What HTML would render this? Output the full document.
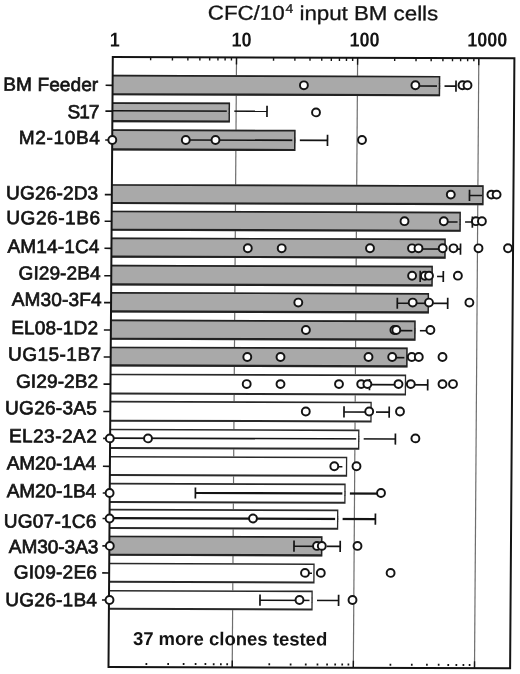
<!DOCTYPE html><html><head><meta charset="utf-8"><style>html,body{margin:0;padding:0;background:#fff;overflow:hidden;}svg{display:block;will-change:transform;}text{font-family:"Liberation Sans",sans-serif;}</style></head><body>
<svg width="520" height="674" viewBox="0 0 520 674">
<rect x="0" y="0" width="520" height="674" fill="#fff"/>
<g transform="matrix(1 0.0032 -0.00705 1 0.4018 -0.3610)">
<line x1="236.52" y1="57.00" x2="236.52" y2="667.00" stroke="#6e6e6e" stroke-width="1.2"/>
<line x1="357.62" y1="57.00" x2="357.62" y2="667.00" stroke="#6e6e6e" stroke-width="1.2"/>
<line x1="478.81" y1="57.00" x2="478.81" y2="667.00" stroke="#6e6e6e" stroke-width="1.2"/>
<rect x="112.80" y="74.84" width="327.59" height="20.40" fill="#a9a9a9"/>
<path d="M112.80 74.84H440.39V95.24H112.80V93.14H438.94V76.54H112.80Z" fill="#222"/>
<rect x="112.80" y="102.24" width="117.58" height="19.90" fill="#a9a9a9"/>
<path d="M112.80 102.24H230.38V122.14H112.80V120.04H228.93V103.94H112.80Z" fill="#222"/>
<rect x="112.80" y="129.24" width="183.28" height="21.20" fill="#a9a9a9"/>
<path d="M112.80 129.24H296.08V150.44H112.80V148.34H294.63V130.94H112.80Z" fill="#222"/>
<rect x="112.80" y="184.14" width="371.76" height="19.90" fill="#a9a9a9"/>
<path d="M112.80 184.14H484.56V204.04H112.80V201.94H483.11V185.84H112.80Z" fill="#222"/>
<rect x="112.80" y="210.64" width="349.15" height="20.10" fill="#a9a9a9"/>
<path d="M112.80 210.64H461.95V230.74H112.80V228.64H460.50V212.34H112.80Z" fill="#222"/>
<rect x="112.80" y="237.44" width="334.24" height="20.20" fill="#a9a9a9"/>
<path d="M112.80 237.44H447.04V257.64H112.80V255.54H445.59V239.14H112.80Z" fill="#222"/>
<rect x="112.80" y="264.84" width="321.53" height="20.60" fill="#a9a9a9"/>
<path d="M112.80 264.84H434.33V285.44H112.80V283.34H432.88V266.54H112.80Z" fill="#222"/>
<rect x="112.80" y="291.94" width="317.92" height="20.50" fill="#a9a9a9"/>
<path d="M112.80 291.94H430.72V312.44H112.80V310.34H429.27V293.64H112.80Z" fill="#222"/>
<rect x="112.80" y="319.54" width="304.72" height="20.20" fill="#a9a9a9"/>
<path d="M112.80 319.54H417.52V339.74H112.80V337.64H416.07V321.24H112.80Z" fill="#222"/>
<rect x="112.80" y="346.64" width="296.91" height="19.80" fill="#a9a9a9"/>
<path d="M112.80 346.64H409.71V366.44H112.80V364.34H408.26V348.34H112.80Z" fill="#222"/>
<rect x="112.80" y="373.64" width="295.60" height="20.80" fill="#fff"/>
<path d="M112.80 373.64H408.40V394.44H112.80V392.44H407.10V375.24H112.80Z" fill="#2a2a2a"/>
<rect x="112.80" y="400.84" width="261.39" height="20.80" fill="#fff"/>
<path d="M112.80 400.84H374.19V421.64H112.80V419.64H372.89V402.44H112.80Z" fill="#2a2a2a"/>
<rect x="112.80" y="428.74" width="249.28" height="20.20" fill="#fff"/>
<path d="M112.80 428.74H362.08V448.94H112.80V446.94H360.78V430.34H112.80Z" fill="#2a2a2a"/>
<rect x="112.80" y="455.94" width="237.28" height="20.10" fill="#fff"/>
<path d="M112.80 455.94H350.08V476.04H112.80V474.04H348.78V457.54H112.80Z" fill="#2a2a2a"/>
<rect x="112.80" y="482.84" width="235.87" height="20.20" fill="#fff"/>
<path d="M112.80 482.84H348.67V503.03H112.80V501.03H347.37V484.44H112.80Z" fill="#2a2a2a"/>
<rect x="112.80" y="508.83" width="228.75" height="20.20" fill="#fff"/>
<path d="M112.80 508.83H341.55V529.03H112.80V527.03H340.25V510.43H112.80Z" fill="#2a2a2a"/>
<rect x="112.80" y="535.63" width="213.04" height="20.10" fill="#a9a9a9"/>
<path d="M112.80 535.63H325.84V555.73H112.80V553.63H324.39V537.33H112.80Z" fill="#222"/>
<rect x="112.80" y="562.73" width="205.43" height="20.00" fill="#fff"/>
<path d="M112.80 562.73H318.23V582.73H112.80V580.73H316.93V564.33H112.80Z" fill="#2a2a2a"/>
<rect x="112.80" y="589.93" width="203.72" height="19.90" fill="#fff"/>
<path d="M112.80 589.93H316.52V609.83H112.80V607.83H315.22V591.53H112.80Z" fill="#2a2a2a"/>
<line x1="416.19" y1="85.02" x2="456.19" y2="85.02" stroke="#141414" stroke-width="1.6"/>
<rect x="440.39" y="83.02" width="4.3" height="4" fill="#fff"/>
<rect x="437.19" y="83.02" width="3.2" height="4" fill="#a9a9a9"/>
<line x1="439.67" y1="82.52" x2="439.67" y2="87.52" stroke="#222" stroke-width="1.45"/>
<line x1="456.19" y1="79.42" x2="456.19" y2="90.62" stroke="#141414" stroke-width="1.7"/>
<line x1="113.38" y1="110.82" x2="267.38" y2="110.82" stroke="#141414" stroke-width="1.6"/>
<rect x="230.38" y="108.82" width="4.3" height="4" fill="#fff"/>
<rect x="227.18" y="108.82" width="3.2" height="4" fill="#a9a9a9"/>
<line x1="229.65" y1="108.32" x2="229.65" y2="113.32" stroke="#222" stroke-width="1.45"/>
<line x1="267.38" y1="105.22" x2="267.38" y2="116.42" stroke="#141414" stroke-width="1.7"/>
<line x1="186.38" y1="139.72" x2="328.08" y2="139.72" stroke="#141414" stroke-width="1.6"/>
<rect x="296.08" y="137.72" width="4.3" height="4" fill="#fff"/>
<rect x="292.88" y="137.72" width="3.2" height="4" fill="#a9a9a9"/>
<line x1="295.36" y1="137.22" x2="295.36" y2="142.22" stroke="#222" stroke-width="1.45"/>
<line x1="328.08" y1="134.12" x2="328.08" y2="145.32" stroke="#141414" stroke-width="1.7"/>
<line x1="470.46" y1="194.32" x2="482.96" y2="194.32" stroke="#141414" stroke-width="1.6"/>
<line x1="470.46" y1="188.72" x2="470.46" y2="199.92" stroke="#141414" stroke-width="1.7"/>
<line x1="444.95" y1="220.92" x2="473.55" y2="220.92" stroke="#141414" stroke-width="1.6"/>
<rect x="461.95" y="218.92" width="4.3" height="4" fill="#fff"/>
<rect x="458.75" y="218.92" width="3.2" height="4" fill="#a9a9a9"/>
<line x1="461.22" y1="218.42" x2="461.22" y2="223.42" stroke="#222" stroke-width="1.45"/>
<line x1="473.55" y1="215.32" x2="473.55" y2="226.52" stroke="#141414" stroke-width="1.7"/>
<line x1="419.84" y1="248.02" x2="461.84" y2="248.02" stroke="#141414" stroke-width="1.6"/>
<rect x="447.04" y="246.02" width="4.3" height="4" fill="#fff"/>
<rect x="443.84" y="246.02" width="3.2" height="4" fill="#a9a9a9"/>
<line x1="446.32" y1="245.52" x2="446.32" y2="250.52" stroke="#222" stroke-width="1.45"/>
<line x1="461.84" y1="242.42" x2="461.84" y2="253.62" stroke="#141414" stroke-width="1.7"/>
<line x1="421.73" y1="275.42" x2="444.83" y2="275.42" stroke="#141414" stroke-width="1.6"/>
<rect x="434.33" y="273.42" width="4.3" height="4" fill="#fff"/>
<rect x="431.13" y="273.42" width="3.2" height="4" fill="#a9a9a9"/>
<line x1="433.61" y1="272.92" x2="433.61" y2="277.92" stroke="#222" stroke-width="1.45"/>
<line x1="421.73" y1="269.82" x2="421.73" y2="281.02" stroke="#141414" stroke-width="1.7"/>
<line x1="444.83" y1="269.82" x2="444.83" y2="281.02" stroke="#141414" stroke-width="1.7"/>
<line x1="399.03" y1="302.32" x2="449.42" y2="302.32" stroke="#141414" stroke-width="1.6"/>
<rect x="430.72" y="300.32" width="4.3" height="4" fill="#fff"/>
<rect x="427.52" y="300.32" width="3.2" height="4" fill="#a9a9a9"/>
<line x1="430.00" y1="299.82" x2="430.00" y2="304.82" stroke="#222" stroke-width="1.45"/>
<line x1="399.03" y1="296.72" x2="399.03" y2="307.92" stroke="#141414" stroke-width="1.7"/>
<line x1="449.42" y1="296.72" x2="449.42" y2="307.92" stroke="#141414" stroke-width="1.7"/>
<line x1="397.92" y1="329.71" x2="431.92" y2="329.71" stroke="#141414" stroke-width="1.6"/>
<rect x="417.52" y="327.71" width="4.3" height="4" fill="#fff"/>
<rect x="414.32" y="327.71" width="3.2" height="4" fill="#a9a9a9"/>
<line x1="416.79" y1="327.21" x2="416.79" y2="332.21" stroke="#222" stroke-width="1.45"/>
<line x1="394.31" y1="356.71" x2="417.11" y2="356.71" stroke="#141414" stroke-width="1.6"/>
<rect x="409.71" y="354.71" width="4.3" height="4" fill="#fff"/>
<rect x="406.51" y="354.71" width="3.2" height="4" fill="#a9a9a9"/>
<line x1="408.98" y1="354.21" x2="408.98" y2="359.21" stroke="#222" stroke-width="1.45"/>
<line x1="371.80" y1="383.81" x2="430.00" y2="383.81" stroke="#141414" stroke-width="1.6"/>
<rect x="408.40" y="381.81" width="4.3" height="4" fill="#fff"/>
<rect x="405.20" y="381.81" width="3.2" height="4" fill="#fff"/>
<line x1="407.75" y1="381.31" x2="407.75" y2="386.31" stroke="#2a2a2a" stroke-width="1.3"/>
<line x1="371.80" y1="378.21" x2="371.80" y2="389.41" stroke="#141414" stroke-width="1.7"/>
<line x1="430.00" y1="378.21" x2="430.00" y2="389.41" stroke="#141414" stroke-width="1.7"/>
<line x1="346.49" y1="411.21" x2="391.69" y2="411.21" stroke="#141414" stroke-width="1.6"/>
<rect x="374.19" y="409.21" width="4.3" height="4" fill="#fff"/>
<rect x="370.99" y="409.21" width="3.2" height="4" fill="#fff"/>
<line x1="373.54" y1="408.71" x2="373.54" y2="413.71" stroke="#2a2a2a" stroke-width="1.3"/>
<line x1="346.49" y1="405.61" x2="346.49" y2="416.81" stroke="#141414" stroke-width="1.7"/>
<line x1="391.69" y1="405.61" x2="391.69" y2="416.81" stroke="#141414" stroke-width="1.7"/>
<line x1="112.69" y1="438.11" x2="398.08" y2="438.11" stroke="#141414" stroke-width="1.6"/>
<rect x="362.08" y="436.11" width="4.3" height="4" fill="#fff"/>
<rect x="358.88" y="436.11" width="3.2" height="4" fill="#fff"/>
<line x1="361.43" y1="435.61" x2="361.43" y2="440.61" stroke="#2a2a2a" stroke-width="1.3"/>
<line x1="398.08" y1="432.51" x2="398.08" y2="443.71" stroke="#141414" stroke-width="1.7"/>
<line x1="337.18" y1="466.01" x2="345.28" y2="466.01" stroke="#141414" stroke-width="1.6"/>
<line x1="198.47" y1="492.71" x2="384.07" y2="492.71" stroke="#141414" stroke-width="2.2"/>
<rect x="348.67" y="490.71" width="4.3" height="4" fill="#fff"/>
<rect x="345.47" y="490.71" width="3.2" height="4" fill="#fff"/>
<line x1="348.02" y1="490.21" x2="348.02" y2="495.21" stroke="#2a2a2a" stroke-width="1.3"/>
<line x1="198.47" y1="487.11" x2="198.47" y2="498.31" stroke="#141414" stroke-width="1.7"/>
<line x1="112.85" y1="518.21" x2="378.65" y2="518.21" stroke="#141414" stroke-width="2.2"/>
<rect x="341.55" y="516.21" width="4.3" height="4" fill="#fff"/>
<rect x="338.35" y="516.21" width="3.2" height="4" fill="#fff"/>
<line x1="340.90" y1="515.71" x2="340.90" y2="520.71" stroke="#2a2a2a" stroke-width="1.3"/>
<line x1="378.65" y1="512.61" x2="378.65" y2="523.81" stroke="#141414" stroke-width="1.7"/>
<line x1="297.44" y1="545.61" x2="343.64" y2="545.61" stroke="#141414" stroke-width="1.6"/>
<rect x="325.84" y="543.61" width="4.3" height="4" fill="#fff"/>
<rect x="322.64" y="543.61" width="3.2" height="4" fill="#a9a9a9"/>
<line x1="325.12" y1="543.11" x2="325.12" y2="548.11" stroke="#222" stroke-width="1.45"/>
<line x1="297.44" y1="540.01" x2="297.44" y2="551.21" stroke="#141414" stroke-width="1.7"/>
<line x1="343.64" y1="540.01" x2="343.64" y2="551.21" stroke="#141414" stroke-width="1.7"/>
<line x1="308.63" y1="572.61" x2="315.63" y2="572.61" stroke="#141414" stroke-width="1.6"/>
<line x1="263.82" y1="599.71" x2="342.42" y2="599.71" stroke="#141414" stroke-width="1.6"/>
<rect x="316.52" y="597.71" width="4.3" height="4" fill="#fff"/>
<rect x="313.32" y="597.71" width="3.2" height="4" fill="#fff"/>
<line x1="315.87" y1="597.21" x2="315.87" y2="602.21" stroke="#2a2a2a" stroke-width="1.3"/>
<line x1="263.82" y1="594.11" x2="263.82" y2="605.31" stroke="#141414" stroke-width="1.7"/>
<line x1="342.42" y1="594.11" x2="342.42" y2="605.31" stroke="#141414" stroke-width="1.7"/>
<rect x="112.80" y="57.00" width="401.60" height="610.00" fill="none" stroke="#141414" stroke-width="2"/>
<line x1="150.66" y1="57.00" x2="150.66" y2="60.20" stroke="#141414" stroke-width="1.4"/>
<line x1="150.66" y1="664.80" x2="150.66" y2="662.80" stroke="#141414" stroke-width="1.7"/>
<line x1="172.44" y1="57.00" x2="172.44" y2="60.20" stroke="#141414" stroke-width="1.4"/>
<line x1="172.44" y1="664.80" x2="172.44" y2="662.80" stroke="#141414" stroke-width="1.7"/>
<line x1="187.89" y1="57.00" x2="187.89" y2="60.20" stroke="#141414" stroke-width="1.4"/>
<line x1="187.89" y1="664.80" x2="187.89" y2="662.80" stroke="#141414" stroke-width="1.7"/>
<line x1="199.88" y1="57.00" x2="199.88" y2="60.20" stroke="#141414" stroke-width="1.4"/>
<line x1="199.88" y1="664.80" x2="199.88" y2="662.80" stroke="#141414" stroke-width="1.7"/>
<line x1="209.68" y1="57.00" x2="209.68" y2="60.20" stroke="#141414" stroke-width="1.4"/>
<line x1="209.68" y1="664.80" x2="209.68" y2="662.80" stroke="#141414" stroke-width="1.7"/>
<line x1="217.96" y1="57.00" x2="217.96" y2="60.20" stroke="#141414" stroke-width="1.4"/>
<line x1="217.96" y1="664.80" x2="217.96" y2="662.80" stroke="#141414" stroke-width="1.7"/>
<line x1="225.13" y1="57.00" x2="225.13" y2="60.20" stroke="#141414" stroke-width="1.4"/>
<line x1="225.13" y1="664.80" x2="225.13" y2="662.80" stroke="#141414" stroke-width="1.7"/>
<line x1="231.46" y1="57.00" x2="231.46" y2="60.20" stroke="#141414" stroke-width="1.4"/>
<line x1="231.46" y1="664.80" x2="231.46" y2="662.80" stroke="#141414" stroke-width="1.7"/>
<line x1="273.57" y1="57.00" x2="273.57" y2="60.20" stroke="#141414" stroke-width="1.4"/>
<line x1="273.57" y1="664.80" x2="273.57" y2="662.80" stroke="#141414" stroke-width="1.7"/>
<line x1="294.90" y1="57.00" x2="294.90" y2="60.20" stroke="#141414" stroke-width="1.4"/>
<line x1="294.90" y1="664.80" x2="294.90" y2="662.80" stroke="#141414" stroke-width="1.7"/>
<line x1="310.03" y1="57.00" x2="310.03" y2="60.20" stroke="#141414" stroke-width="1.4"/>
<line x1="310.03" y1="664.80" x2="310.03" y2="662.80" stroke="#141414" stroke-width="1.7"/>
<line x1="321.76" y1="57.00" x2="321.76" y2="60.20" stroke="#141414" stroke-width="1.4"/>
<line x1="321.76" y1="664.80" x2="321.76" y2="662.80" stroke="#141414" stroke-width="1.7"/>
<line x1="331.35" y1="57.00" x2="331.35" y2="60.20" stroke="#141414" stroke-width="1.4"/>
<line x1="331.35" y1="664.80" x2="331.35" y2="662.80" stroke="#141414" stroke-width="1.7"/>
<line x1="339.46" y1="57.00" x2="339.46" y2="60.20" stroke="#141414" stroke-width="1.4"/>
<line x1="339.46" y1="664.80" x2="339.46" y2="662.80" stroke="#141414" stroke-width="1.7"/>
<line x1="346.48" y1="57.00" x2="346.48" y2="60.20" stroke="#141414" stroke-width="1.4"/>
<line x1="346.48" y1="664.80" x2="346.48" y2="662.80" stroke="#141414" stroke-width="1.7"/>
<line x1="352.67" y1="57.00" x2="352.67" y2="60.20" stroke="#141414" stroke-width="1.4"/>
<line x1="352.67" y1="664.80" x2="352.67" y2="662.80" stroke="#141414" stroke-width="1.7"/>
<line x1="394.70" y1="57.00" x2="394.70" y2="60.20" stroke="#141414" stroke-width="1.4"/>
<line x1="394.70" y1="664.80" x2="394.70" y2="662.80" stroke="#141414" stroke-width="1.7"/>
<line x1="416.04" y1="57.00" x2="416.04" y2="60.20" stroke="#141414" stroke-width="1.4"/>
<line x1="416.04" y1="664.80" x2="416.04" y2="662.80" stroke="#141414" stroke-width="1.7"/>
<line x1="431.18" y1="57.00" x2="431.18" y2="60.20" stroke="#141414" stroke-width="1.4"/>
<line x1="431.18" y1="664.80" x2="431.18" y2="662.80" stroke="#141414" stroke-width="1.7"/>
<line x1="442.93" y1="57.00" x2="442.93" y2="60.20" stroke="#141414" stroke-width="1.4"/>
<line x1="442.93" y1="664.80" x2="442.93" y2="662.80" stroke="#141414" stroke-width="1.7"/>
<line x1="452.53" y1="57.00" x2="452.53" y2="60.20" stroke="#141414" stroke-width="1.4"/>
<line x1="452.53" y1="664.80" x2="452.53" y2="662.80" stroke="#141414" stroke-width="1.7"/>
<line x1="460.64" y1="57.00" x2="460.64" y2="60.20" stroke="#141414" stroke-width="1.4"/>
<line x1="460.64" y1="664.80" x2="460.64" y2="662.80" stroke="#141414" stroke-width="1.7"/>
<line x1="467.67" y1="57.00" x2="467.67" y2="60.20" stroke="#141414" stroke-width="1.4"/>
<line x1="467.67" y1="664.80" x2="467.67" y2="662.80" stroke="#141414" stroke-width="1.7"/>
<line x1="473.87" y1="57.00" x2="473.87" y2="60.20" stroke="#141414" stroke-width="1.4"/>
<line x1="473.87" y1="664.80" x2="473.87" y2="662.80" stroke="#141414" stroke-width="1.7"/>
<line x1="236.52" y1="57.00" x2="236.52" y2="64.00" stroke="#141414" stroke-width="1.4"/>
<line x1="236.52" y1="667.00" x2="236.52" y2="660.00" stroke="#141414" stroke-width="1.4"/>
<line x1="357.62" y1="57.00" x2="357.62" y2="64.00" stroke="#141414" stroke-width="1.4"/>
<line x1="357.62" y1="667.00" x2="357.62" y2="660.00" stroke="#141414" stroke-width="1.4"/>
<line x1="478.81" y1="57.00" x2="478.81" y2="64.00" stroke="#141414" stroke-width="1.4"/>
<line x1="478.81" y1="667.00" x2="478.81" y2="660.00" stroke="#141414" stroke-width="1.4"/>
<line x1="105.80" y1="85.34" x2="112.80" y2="85.34" stroke="#141414" stroke-width="1.6"/>
<line x1="105.80" y1="111.14" x2="112.80" y2="111.14" stroke="#141414" stroke-width="1.6"/>
<line x1="105.80" y1="140.04" x2="112.80" y2="140.04" stroke="#141414" stroke-width="1.6"/>
<line x1="105.80" y1="194.64" x2="112.80" y2="194.64" stroke="#141414" stroke-width="1.6"/>
<line x1="105.80" y1="221.24" x2="112.80" y2="221.24" stroke="#141414" stroke-width="1.6"/>
<line x1="105.80" y1="248.34" x2="112.80" y2="248.34" stroke="#141414" stroke-width="1.6"/>
<line x1="105.80" y1="275.74" x2="112.80" y2="275.74" stroke="#141414" stroke-width="1.6"/>
<line x1="105.80" y1="302.64" x2="112.80" y2="302.64" stroke="#141414" stroke-width="1.6"/>
<line x1="105.80" y1="330.03" x2="112.80" y2="330.03" stroke="#141414" stroke-width="1.6"/>
<line x1="105.80" y1="357.03" x2="112.80" y2="357.03" stroke="#141414" stroke-width="1.6"/>
<line x1="105.80" y1="384.13" x2="112.80" y2="384.13" stroke="#141414" stroke-width="1.6"/>
<line x1="105.80" y1="411.53" x2="112.80" y2="411.53" stroke="#141414" stroke-width="1.6"/>
<line x1="105.80" y1="438.43" x2="112.80" y2="438.43" stroke="#141414" stroke-width="1.6"/>
<line x1="105.80" y1="466.33" x2="112.80" y2="466.33" stroke="#141414" stroke-width="1.6"/>
<line x1="105.80" y1="493.03" x2="112.80" y2="493.03" stroke="#141414" stroke-width="1.6"/>
<line x1="105.80" y1="518.53" x2="112.80" y2="518.53" stroke="#141414" stroke-width="1.6"/>
<line x1="105.80" y1="545.93" x2="112.80" y2="545.93" stroke="#141414" stroke-width="1.6"/>
<line x1="105.80" y1="572.93" x2="112.80" y2="572.93" stroke="#141414" stroke-width="1.6"/>
<line x1="105.80" y1="600.03" x2="112.80" y2="600.03" stroke="#141414" stroke-width="1.6"/>
<circle cx="304.10" cy="84.69" r="3.95" fill="#fff" stroke="#141414" stroke-width="1.95"/>
<circle cx="415.59" cy="84.33" r="3.95" fill="#fff" stroke="#141414" stroke-width="1.95"/>
<circle cx="462.69" cy="84.18" r="3.95" fill="#fff" stroke="#141414" stroke-width="1.95"/>
<circle cx="467.69" cy="84.16" r="3.95" fill="#fff" stroke="#141414" stroke-width="1.95"/>
<circle cx="316.39" cy="111.75" r="3.95" fill="#fff" stroke="#141414" stroke-width="1.95"/>
<circle cx="112.89" cy="140.00" r="3.95" fill="#fff" stroke="#141414" stroke-width="1.95"/>
<circle cx="186.38" cy="139.76" r="3.95" fill="#fff" stroke="#141414" stroke-width="1.95"/>
<circle cx="216.08" cy="139.67" r="3.95" fill="#fff" stroke="#141414" stroke-width="1.95"/>
<circle cx="362.58" cy="139.20" r="3.95" fill="#fff" stroke="#141414" stroke-width="1.95"/>
<circle cx="451.76" cy="193.52" r="3.95" fill="#fff" stroke="#141414" stroke-width="1.95"/>
<circle cx="492.36" cy="193.39" r="3.95" fill="#fff" stroke="#141414" stroke-width="1.95"/>
<circle cx="497.56" cy="193.37" r="3.95" fill="#fff" stroke="#141414" stroke-width="1.95"/>
<circle cx="405.65" cy="220.26" r="3.95" fill="#fff" stroke="#141414" stroke-width="1.95"/>
<circle cx="444.95" cy="220.14" r="3.95" fill="#fff" stroke="#141414" stroke-width="1.95"/>
<circle cx="477.05" cy="220.03" r="3.95" fill="#fff" stroke="#141414" stroke-width="1.95"/>
<circle cx="483.05" cy="220.02" r="3.95" fill="#fff" stroke="#141414" stroke-width="1.95"/>
<circle cx="249.15" cy="247.86" r="3.95" fill="#fff" stroke="#141414" stroke-width="1.95"/>
<circle cx="283.04" cy="247.76" r="3.95" fill="#fff" stroke="#141414" stroke-width="1.95"/>
<circle cx="371.34" cy="247.47" r="3.95" fill="#fff" stroke="#141414" stroke-width="1.95"/>
<circle cx="413.34" cy="247.34" r="3.95" fill="#fff" stroke="#141414" stroke-width="1.95"/>
<circle cx="419.84" cy="247.32" r="3.95" fill="#fff" stroke="#141414" stroke-width="1.95"/>
<circle cx="444.04" cy="247.24" r="3.95" fill="#fff" stroke="#141414" stroke-width="1.95"/>
<circle cx="454.84" cy="247.21" r="3.95" fill="#fff" stroke="#141414" stroke-width="1.95"/>
<circle cx="479.84" cy="247.13" r="3.95" fill="#fff" stroke="#141414" stroke-width="1.95"/>
<circle cx="509.34" cy="247.03" r="3.95" fill="#fff" stroke="#141414" stroke-width="1.95"/>
<circle cx="413.64" cy="274.74" r="3.95" fill="#fff" stroke="#141414" stroke-width="1.95"/>
<circle cx="426.43" cy="274.70" r="3.95" fill="#fff" stroke="#141414" stroke-width="1.95"/>
<circle cx="430.53" cy="274.68" r="3.95" fill="#fff" stroke="#141414" stroke-width="1.95"/>
<circle cx="459.43" cy="274.59" r="3.95" fill="#fff" stroke="#141414" stroke-width="1.95"/>
<circle cx="300.03" cy="302.00" r="3.95" fill="#fff" stroke="#141414" stroke-width="1.95"/>
<circle cx="414.42" cy="301.63" r="3.95" fill="#fff" stroke="#141414" stroke-width="1.95"/>
<circle cx="430.72" cy="301.58" r="3.95" fill="#fff" stroke="#141414" stroke-width="1.95"/>
<circle cx="471.12" cy="301.45" r="3.95" fill="#fff" stroke="#141414" stroke-width="1.95"/>
<circle cx="307.82" cy="329.38" r="3.95" fill="#fff" stroke="#141414" stroke-width="1.95"/>
<circle cx="396.32" cy="329.09" r="3.95" fill="#fff" stroke="#141414" stroke-width="1.95"/>
<circle cx="398.22" cy="329.09" r="3.95" fill="#fff" stroke="#141414" stroke-width="1.95"/>
<circle cx="432.32" cy="328.98" r="3.95" fill="#fff" stroke="#141414" stroke-width="1.95"/>
<circle cx="249.41" cy="356.56" r="3.95" fill="#fff" stroke="#141414" stroke-width="1.95"/>
<circle cx="282.61" cy="356.46" r="3.95" fill="#fff" stroke="#141414" stroke-width="1.95"/>
<circle cx="370.61" cy="356.18" r="3.95" fill="#fff" stroke="#141414" stroke-width="1.95"/>
<circle cx="394.31" cy="356.10" r="3.95" fill="#fff" stroke="#141414" stroke-width="1.95"/>
<circle cx="413.91" cy="356.04" r="3.95" fill="#fff" stroke="#141414" stroke-width="1.95"/>
<circle cx="420.91" cy="356.01" r="3.95" fill="#fff" stroke="#141414" stroke-width="1.95"/>
<circle cx="444.61" cy="355.94" r="3.95" fill="#fff" stroke="#141414" stroke-width="1.95"/>
<circle cx="249.00" cy="383.66" r="3.95" fill="#fff" stroke="#141414" stroke-width="1.95"/>
<circle cx="282.80" cy="383.56" r="3.95" fill="#fff" stroke="#141414" stroke-width="1.95"/>
<circle cx="341.30" cy="383.37" r="3.95" fill="#fff" stroke="#141414" stroke-width="1.95"/>
<circle cx="363.50" cy="383.30" r="3.95" fill="#fff" stroke="#141414" stroke-width="1.95"/>
<circle cx="369.70" cy="383.28" r="3.95" fill="#fff" stroke="#141414" stroke-width="1.95"/>
<circle cx="400.80" cy="383.18" r="3.95" fill="#fff" stroke="#141414" stroke-width="1.95"/>
<circle cx="413.10" cy="383.14" r="3.95" fill="#fff" stroke="#141414" stroke-width="1.95"/>
<circle cx="444.80" cy="383.04" r="3.95" fill="#fff" stroke="#141414" stroke-width="1.95"/>
<circle cx="455.30" cy="383.00" r="3.95" fill="#fff" stroke="#141414" stroke-width="1.95"/>
<circle cx="308.29" cy="410.87" r="3.95" fill="#fff" stroke="#141414" stroke-width="1.95"/>
<circle cx="371.69" cy="410.67" r="3.95" fill="#fff" stroke="#141414" stroke-width="1.95"/>
<circle cx="402.49" cy="410.57" r="3.95" fill="#fff" stroke="#141414" stroke-width="1.95"/>
<circle cx="112.49" cy="438.40" r="3.95" fill="#fff" stroke="#141414" stroke-width="1.95"/>
<circle cx="150.69" cy="438.28" r="3.95" fill="#fff" stroke="#141414" stroke-width="1.95"/>
<circle cx="418.08" cy="437.42" r="3.95" fill="#fff" stroke="#141414" stroke-width="1.95"/>
<circle cx="337.18" cy="465.58" r="3.95" fill="#fff" stroke="#141414" stroke-width="1.95"/>
<circle cx="359.38" cy="465.51" r="3.95" fill="#fff" stroke="#141414" stroke-width="1.95"/>
<circle cx="112.67" cy="493.00" r="3.95" fill="#fff" stroke="#141414" stroke-width="1.95"/>
<circle cx="384.07" cy="492.13" r="3.95" fill="#fff" stroke="#141414" stroke-width="1.95"/>
<circle cx="112.85" cy="518.50" r="3.95" fill="#fff" stroke="#141414" stroke-width="1.95"/>
<circle cx="256.25" cy="518.04" r="3.95" fill="#fff" stroke="#141414" stroke-width="1.95"/>
<circle cx="113.25" cy="545.90" r="3.95" fill="#fff" stroke="#141414" stroke-width="1.95"/>
<circle cx="320.44" cy="545.24" r="3.95" fill="#fff" stroke="#141414" stroke-width="1.95"/>
<circle cx="325.24" cy="545.22" r="3.95" fill="#fff" stroke="#141414" stroke-width="1.95"/>
<circle cx="360.94" cy="545.11" r="3.95" fill="#fff" stroke="#141414" stroke-width="1.95"/>
<circle cx="308.63" cy="572.27" r="3.95" fill="#fff" stroke="#141414" stroke-width="1.95"/>
<circle cx="324.43" cy="572.22" r="3.95" fill="#fff" stroke="#141414" stroke-width="1.95"/>
<circle cx="394.23" cy="572.00" r="3.95" fill="#fff" stroke="#141414" stroke-width="1.95"/>
<circle cx="113.33" cy="600.00" r="3.95" fill="#fff" stroke="#141414" stroke-width="1.95"/>
<circle cx="303.32" cy="599.39" r="3.95" fill="#fff" stroke="#141414" stroke-width="1.95"/>
<circle cx="356.32" cy="599.22" r="3.95" fill="#fff" stroke="#141414" stroke-width="1.95"/>
<text x="98.54" y="91.15" text-anchor="end" font-size="19" font-weight="normal" letter-spacing="0.11" fill="#141414" stroke="#141414" stroke-width="0.7">BM Feeder</text>
<text x="98.73" y="118.35" text-anchor="end" font-size="19" font-weight="normal" letter-spacing="-1.05" fill="#141414" stroke="#141414" stroke-width="0.7">S17</text>
<text x="101.22" y="144.24" text-anchor="end" font-size="19" font-weight="normal" letter-spacing="0.67" fill="#141414" stroke="#141414" stroke-width="0.7">M2-10B4</text>
<text x="99.31" y="199.64" text-anchor="end" font-size="19" font-weight="normal" letter-spacing="0.17" fill="#141414" stroke="#141414" stroke-width="0.7">UG26-2D3</text>
<text x="101.78" y="224.44" text-anchor="end" font-size="19" font-weight="normal" letter-spacing="0.57" fill="#141414" stroke="#141414" stroke-width="0.7">UG26-1B6</text>
<text x="100.88" y="253.14" text-anchor="end" font-size="19" font-weight="normal" letter-spacing="0.14" fill="#141414" stroke="#141414" stroke-width="0.7">AM14-1C4</text>
<text x="102.17" y="279.73" text-anchor="end" font-size="19" font-weight="normal" letter-spacing="0.09" fill="#141414" stroke="#141414" stroke-width="0.7">GI29-2B4</text>
<text x="103.46" y="306.13" text-anchor="end" font-size="19" font-weight="normal" letter-spacing="0.17" fill="#141414" stroke="#141414" stroke-width="0.7">AM30-3F4</text>
<text x="100.26" y="334.44" text-anchor="end" font-size="19" font-weight="normal" letter-spacing="0.2" fill="#141414" stroke="#141414" stroke-width="0.7">EL08-1D2</text>
<text x="103.84" y="360.93" text-anchor="end" font-size="19" font-weight="normal" letter-spacing="0.5" fill="#141414" stroke="#141414" stroke-width="0.7">UG15-1B7</text>
<text x="100.63" y="387.94" text-anchor="end" font-size="19" font-weight="normal" letter-spacing="0.13" fill="#141414" stroke="#141414" stroke-width="0.7">GI29-2B2</text>
<text x="99.72" y="414.54" text-anchor="end" font-size="19" font-weight="normal" letter-spacing="0.3" fill="#141414" stroke="#141414" stroke-width="0.7">UG26-3A5</text>
<text x="99.92" y="442.64" text-anchor="end" font-size="19" font-weight="normal" letter-spacing="0.47" fill="#141414" stroke="#141414" stroke-width="0.7">EL23-2A2</text>
<text x="99.01" y="469.84" text-anchor="end" font-size="19" font-weight="normal" letter-spacing="-0.04" fill="#141414" stroke="#141414" stroke-width="0.7">AM20-1A4</text>
<text x="99.21" y="497.54" text-anchor="end" font-size="19" font-weight="normal" letter-spacing="-0.04" fill="#141414" stroke="#141414" stroke-width="0.7">AM20-1B4</text>
<text x="99.92" y="527.84" text-anchor="end" font-size="19" font-weight="normal" letter-spacing="0.24" fill="#141414" stroke="#141414" stroke-width="0.7">UG07-1C6</text>
<text x="101.80" y="553.34" text-anchor="end" font-size="19" font-weight="normal" letter-spacing="-0.04" fill="#141414" stroke="#141414" stroke-width="0.7">AM30-3A3</text>
<text x="100.88" y="578.74" text-anchor="end" font-size="19" font-weight="normal" letter-spacing="0.27" fill="#141414" stroke="#141414" stroke-width="0.7">GI09-2E6</text>
<text x="101.07" y="606.44" text-anchor="end" font-size="19" font-weight="normal" letter-spacing="0.26" fill="#141414" stroke="#141414" stroke-width="0.7">UG26-1B4</text>
<text transform="translate(114.68 46.49) scale(1 1.12)" text-anchor="middle" font-size="18" font-weight="bold" fill="#141414">1</text>
<text transform="translate(241.47 46.09) scale(1 1.12)" text-anchor="middle" font-size="18" font-weight="bold" fill="#141414">10</text>
<text transform="translate(364.52 45.69) scale(1 1.12)" text-anchor="middle" font-size="18" font-weight="bold" fill="#141414">100</text>
<text transform="translate(487.07 45.30) scale(1 1.12)" text-anchor="middle" font-size="18" font-weight="bold" fill="#141414">1000</text>
<text transform="translate(207.53 19.30) scale(1.115 1)" x="0" y="0" font-size="20" fill="#141414" stroke="#141414" stroke-width="0.3">CFC/10<tspan font-size="12.5" dx="0.8" dy="-7.2">4</tspan><tspan dy="7.2"> input BM cells</tspan></text>
<text x="137.04" y="644.92" font-size="18.5" font-weight="bold" fill="#141414">37 more clones tested</text>
</g></svg></body></html>
